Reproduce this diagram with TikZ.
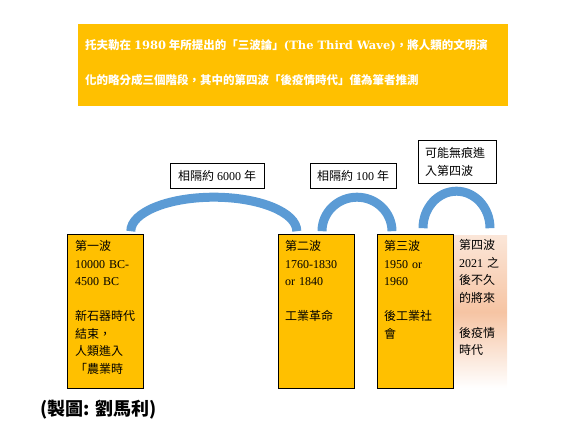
\documentclass[tikz,border=0pt]{standalone}
\usepackage{fontspec}
\setmainfont{Liberation Serif}
\newfontfamily\cjk{Noto Sans CJK TC}
\newfontfamily\wideserif{DejaVu Serif}
\newcommand\zh[1]{{\cjk #1}}
\newcommand\lat[1]{{\wideserif\fontsize{11.5}{14}\selectfont #1}}
\definecolor{gold}{HTML}{FFC000}
\definecolor{waveblue}{HTML}{5B9BD5}
\definecolor{peach}{HTML}{F6C4A3}
\definecolor{blush}{HTML}{FBE6D8}

\begin{document}
\begin{tikzpicture}[x=1pt,y=1pt,
	era/.style={draw=black,fill=gold,line width=0.8pt,minimum width=76pt,minimum height=154pt,inner sep=0pt,anchor=south west},
	eratext/.style={anchor=north west,inner sep=0pt,text width=70pt,align=left,font=\fontsize{12}{17.5}\selectfont},
	gap/.style={draw=black,fill=white,line width=0.8pt,minimum height=25pt,inner sep=0pt,font=\fontsize{12}{14}\selectfont},
	banner/.style={anchor=west,inner sep=0pt,text=white,font=\fontsize{11.5}{14}\selectfont\bfseries},
	wave/.style={waveblue,line width=9pt}]
\useasboundingbox (0,0) rectangle (581,424);

% banner
\fill[gold] (78,318) rectangle (508,400);
\node[banner] (l1) at (85,379)
	{\zh{托夫勒在} \lat{1980} \zh{年所提出的「三波論」}\lat{(The Third Wave)}\zh{，將人類的文明演}};
\node[banner] (l2) at (85,344)
	{\zh{化的略分成三個階段，其中的第四波「後疫情時代」僅為筆者推測}};

% the four waves
\node[era] (w1) at (67,35) {};
\node[era] (w2) at (278,35) {};
\node[anchor=south west,inner sep=0pt,minimum width=54pt,minimum height=152pt,
	top color=blush,bottom color=white,middle color=peach] (w4) at (453,36) {};
\node[era] (w3) at (377,35) {};

\node[eratext] (t1) at ([shift={(8,-6)}]w1.north west)
	{\zh{第一波}\\10000 BC-\\4500 BC\\[17.5pt]\zh{新石器時代}\\\zh{結束，}\\\zh{人類進入}\\\zh{「農業時}};
\node[eratext] (t2) at ([shift={(7,-6)}]w2.north west)
	{\zh{第二波}\\1760-1830\\or 1840\\[17.5pt]\zh{工業革命}};
\node[eratext] (t3) at ([shift={(7,-6)}]w3.north west)
	{\zh{第三波}\\1950 or\\1960\\[17.5pt]\zh{後工業社}\\\zh{會}};
\node[eratext,text width=48pt] (t4) at ([shift={(6,-4)}]w4.north west)
	{\zh{第四波}\\2021 \zh{之}\\\zh{後不久}\\\zh{的將來}\\[17.5pt]\zh{後疫情}\\\zh{時代}};

% arcs between the waves
\coordinate (a1) at ([shift={(-13,3)}]w1.north east);
\coordinate (a2) at ([shift={(44,3)}]w2.north west);
\coordinate (a3) at ([shift={(46,6)}]w3.north west);
\foreach \a/\rx/\ry in {a1/83/34, a2/35/34, a3/33.5/37}
	\draw[wave] (\a) arc[start angle=180,end angle=0,x radius=\rx pt,y radius=\ry pt];

\node[gap,minimum width=94pt] (g1) at (217,248.5) {\zh{相隔約} 6000 \zh{年}};
\node[gap,minimum width=86pt] (g2) at (353,248.5) {\zh{相隔約} 100 \zh{年}};
\node[gap,minimum width=78pt,minimum height=43pt,text width=64pt,align=left,
	font=\fontsize{12}{18}\selectfont\cjk] (g3) at (457,262.5) {可能無痕進\\入第四波};

% credit
\node[anchor=west,inner sep=0pt,font=\cjk\bfseries\fontsize{18}{20}\selectfont] (credit) at (40,14) {(製圖: 劉馬利)};
\end{tikzpicture}
\end{document}
